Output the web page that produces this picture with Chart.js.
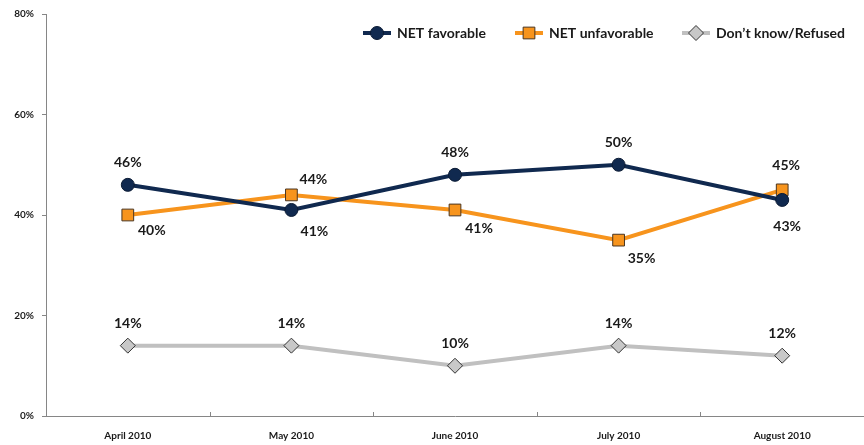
<!DOCTYPE html>
<html>
<head>
<meta charset="utf-8">
<script src="https://cdn.jsdelivr.net/npm/chart.js@4/dist/chart.umd.min.js"></script>
<style>
html,body{margin:0;padding:0;background:#fff;}
#wrap{width:864px;height:445px;position:relative;}
</style>
</head>
<body>
<div id="wrap"><canvas id="c" width="864" height="445"></canvas></div>
<script>
const categories = ['April 2010', 'May 2010', 'June 2010', 'July 2010', 'August 2010'];
const netFavorable = [46, 41, 48, 50, 43];
const netUnfavorable = [40, 44, 41, 35, 45];
const dontKnow = [14, 14, 10, 14, 12];
const seriesNames = ['NET favorable', 'NET unfavorable', 'Don\u2019t know/Refused'];
const yTicks = [0, 20, 40, 60, 80];

// label offsets (style only)
const labelOffsets = [
  [[0,-22],[23,22],[0,-22],[0,-22],[5,27]],
  [[24,15],[22,-15],[24,19],[23,18],[4,-24]],
  [[0,-22],[0,-22],[0,-22],[0,-22],[0,-22]]
];
const FONT = 'Lato, "Open Sans", sans-serif';
const NAVY = '#10294F', ORANGE = '#F7941D', GREY = '#C0C0C0';

const labelPlugin = {
  id: 'labels',
  afterDatasetsDraw(chart) {
    const ctx = chart.ctx;
    ctx.save();
    ctx.font = 'bold 14px ' + FONT;
    ctx.fillStyle = '#1a1a1a';
    ctx.textAlign = 'center';
    ctx.textBaseline = 'middle';
    chart.data.datasets.forEach((ds, di) => {
      const meta = chart.getDatasetMeta(di);
      meta.data.forEach((pt, i) => {
        const o = labelOffsets[di][i];
        ctx.fillText(ds.data[i] + '%', pt.x + o[0], pt.y + o[1]);
      });
    });
    ctx.restore();
  },
  afterDraw(chart) {
    const ctx = chart.ctx;
    const xs = chart.scales.x;
    const bottom = chart.chartArea.bottom;
    ctx.save();
    ctx.strokeStyle = '#868686';
    ctx.lineWidth = 1;
    for (let i = 1; i < categories.length; i++) {
      const px = Math.round((xs.getPixelForValue(i - 1) + xs.getPixelForValue(i)) / 2) + 0.5;
      ctx.beginPath();
      ctx.moveTo(px, bottom);
      ctx.lineTo(px, bottom - 4);
      ctx.stroke();
    }
    // legend
    const legendX = [363, 515, 682];
    const ly = 33;
    chart.data.datasets.forEach((ds, di) => {
      const x0 = legendX[di];
      ctx.strokeStyle = ds.borderColor;
      ctx.lineWidth = 4;
      ctx.beginPath();
      ctx.moveTo(x0, ly);
      ctx.lineTo(x0 + 28, ly);
      ctx.stroke();
      ctx.fillStyle = ds.pointBackgroundColor;
      ctx.strokeStyle = ds.pointBorderColor;
      ctx.lineWidth = ds.pointBorderWidth;
      ctx.beginPath();
      Chart.helpers.drawPoint(ctx, {pointStyle: ds.pointStyle, radius: ds.pointRadius, borderWidth: ds.pointBorderWidth, rotation: 0}, x0 + 14, ly);
      ctx.font = 'bold 14px ' + FONT;
      ctx.fillStyle = '#1a1a1a';
      ctx.textAlign = 'left';
      ctx.textBaseline = 'middle';
      ctx.fillText(seriesNames[di], x0 + 34, ly);
    });
    ctx.restore();
  }
};

new Chart(document.getElementById('c'), {
  type: 'line',
  data: {
    labels: categories,
    datasets: [
      {
        label: seriesNames[0], data: netFavorable,
        borderColor: NAVY, borderWidth: 4,
        pointStyle: 'circle', pointRadius: 6.5,
        pointBackgroundColor: NAVY, pointBorderColor: '#0a1a33', pointBorderWidth: 1,
        tension: 0
      },
      {
        label: seriesNames[1], data: netUnfavorable,
        borderColor: ORANGE, borderWidth: 4,
        pointStyle: 'rect', pointRadius: 8.3,
        pointBackgroundColor: ORANGE, pointBorderColor: '#4a3520', pointBorderWidth: 1,
        tension: 0
      },
      {
        label: seriesNames[2], data: dontKnow,
        borderColor: GREY, borderWidth: 4,
        pointStyle: 'rectRot', pointRadius: 7.5,
        pointBackgroundColor: '#C8C8C8', pointBorderColor: '#333333', pointBorderWidth: 1,
        tension: 0
      }
    ]
  },
  options: {
    responsive: false,
    animation: false,
    devicePixelRatio: 1,
    layout: { autoPadding: false, padding: { top: 9, right: 0, bottom: 0, left: 0 } },
    plugins: { legend: { display: false }, tooltip: { enabled: false } },
    elements: { line: { borderCapStyle: 'butt' } },
    scales: {
      x: {
        offset: true,
        grid: { display: false, drawTicks: false },
        border: { display: true, color: '#868686', width: 1 },
        ticks: { font: { family: FONT, size: 10, weight: 'bold' }, color: '#1a1a1a', padding: 14, maxRotation: 0 },
        afterFit(s) { s.height = 29; s.paddingLeft = 0; s.paddingRight = 0; }
      },
      y: {
        min: 0, max: 80,
        afterBuildTicks(s) { s.ticks = yTicks.map(v => ({ value: v })); },
        grid: { drawOnChartArea: false, drawTicks: true, tickLength: 4, color: '#868686' },
        border: { display: true, color: '#868686', width: 1 },
        ticks: {
          font: { family: FONT, size: 10, weight: 'bold' }, color: '#1a1a1a', padding: 8,
          callback: v => v + '%'
        },
        afterFit(s) { s.width = 46; }
      }
    }
  },
  plugins: [labelPlugin]
});
</script>
</body>
</html>
